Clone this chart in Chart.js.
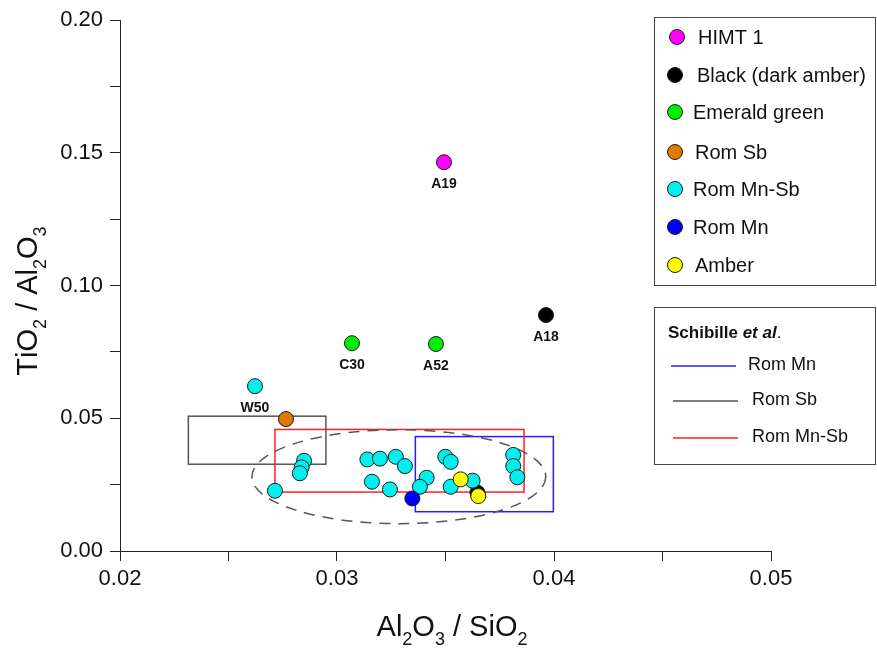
<!DOCTYPE html>
<html>
<head>
<meta charset="utf-8">
<script src="https://cdn.jsdelivr.net/npm/chart.js@4.4.1/dist/chart.umd.min.js"></script>
<style>
  html, body { margin: 0; padding: 0; background: #fff; }
  canvas { display: block; }
</style>
</head>
<body>
<canvas id="chart" width="877" height="650"></canvas>
<script>
// values (x = Al2O3/SiO2, y = TiO2/Al2O3)
var himtX = [0.03493];
var himtY = [0.1465];
var himtLabels = ['A19'];

var blackX = [0.03963, 0.03647];
var blackY = [0.0889, 0.0220];
var blackLabels = ['A18', ''];

var emeraldX = [0.03069, 0.03456];
var emeraldY = [0.0783, 0.0780];
var emeraldLabels = ['C30', 'A52'];

var romSbX = [0.02765];
var romSbY = [0.0497];

var romMnSbX = [0.02622, 0.02714, 0.02848, 0.02837, 0.02829, 0.03140, 0.03198, 0.03271, 0.03313, 0.03161,
                0.03244, 0.03413, 0.03382, 0.03499, 0.03524, 0.03524, 0.03625, 0.03812, 0.03812, 0.03831];
var romMnSbY = [0.0621, 0.0227, 0.0340, 0.0315, 0.0293, 0.0345, 0.0348, 0.0355, 0.0320, 0.0261,
                0.0232, 0.0276, 0.0242, 0.0355, 0.0336, 0.0242, 0.0265, 0.0362, 0.0320, 0.0278];
var romMnSbLabels = ['W50'];

var romMnX = [0.03347];
var romMnY = [0.0198];

var amberX = [0.03570, 0.03651];
var amberY = [0.0270, 0.0207];

// Schibille et al. fields: [xmin, xmax, ymin, ymax]
var fieldRomMn = [0.03361, 0.03997, 0.0148, 0.0431];
var fieldRomSb = [0.02315, 0.02949, 0.0327, 0.0508];
var fieldRomMnSb = [0.02714, 0.03862, 0.0222, 0.0458];
// dashed ellipse: [cx, cy, rx, ry]
var groupEllipse = [0.03285, 0.0280, 0.00677, 0.0177];

var xTickValues = [0.02, 0.025, 0.03, 0.035, 0.04, 0.045, 0.05];
var xTickLabels = ['0.02', '', '0.03', '', '0.04', '', '0.05'];
var yTickValues = [0, 0.025, 0.05, 0.075, 0.1, 0.125, 0.15, 0.175, 0.2];
var yTickLabels = ['0.00', '', '0.05', '', '0.10', '', '0.15', '', '0.20'];

var legendItems = ['HIMT 1', 'Black (dark amber)', 'Emerald green', 'Rom Sb', 'Rom Mn-Sb', 'Rom Mn', 'Amber'];
var legendColors = ['#ff00ff', '#000000', '#00ee00', '#e07800', '#00f0f0', '#0000ff', '#ffff00'];
var fieldNames = ['Rom Mn', 'Rom Sb', 'Rom Mn-Sb'];
var fieldColors = ['#2020ff', '#555555', '#ff2020'];

var FONT = '"Liberation Sans", Arial, sans-serif';

function pts(xs, ys) {
  return xs.map(function(x, i) { return { x: x, y: ys[i] }; });
}

// later series sit on top, as in the original plot
function series(name, xs, ys, color, drawOrder, labels) {
  return {
    label: name,
    data: pts(xs, ys),
    backgroundColor: color,
    borderColor: '#1a1a1a',
    borderWidth: 1,
    pointRadius: 7.5,
    pointHoverRadius: 7.5,
    order: drawOrder,
    pointLabels: labels || []
  };
}

// writes a formula like TiO2 with the digits lowered and smaller
function formulaParts(str) {
  var parts = [];
  for (var i = 0; i < str.length; i++) {
    var c = str[i];
    var sub = /[0-9]/.test(c) && i > 0 && /[A-Za-z]/.test(str[i - 1]);
    parts.push([c, sub]);
  }
  return parts;
}

function drawFormula(ctx, str, cx, baseY, size) {
  var parts = formulaParts(str);
  var big = size + 'px ' + FONT;
  var small = Math.round(size * 0.62) + 'px ' + FONT;
  var total = 0;
  parts.forEach(function(p) {
    ctx.font = p[1] ? small : big;
    total += ctx.measureText(p[0]).width;
  });
  var x = cx - total / 2;
  ctx.textAlign = 'left';
  ctx.textBaseline = 'alphabetic';
  parts.forEach(function(p) {
    ctx.font = p[1] ? small : big;
    ctx.fillText(p[0], x, baseY + (p[1] ? size * 0.3 : 0));
    x += ctx.measureText(p[0]).width;
  });
}

var fieldsPlugin = {
  id: 'fields',
  beforeDatasetsDraw: function(chart) {
    var ctx = chart.ctx;
    var xs = chart.scales.x, ys = chart.scales.y;
    var fields = [fieldRomMn, fieldRomSb, fieldRomMnSb];
    ctx.save();
    fields.forEach(function(f, i) {
      var l = xs.getPixelForValue(f[0]), r = xs.getPixelForValue(f[1]);
      var b = ys.getPixelForValue(f[2]), t = ys.getPixelForValue(f[3]);
      ctx.strokeStyle = fieldColors[i];
      ctx.lineWidth = 1.5;
      ctx.strokeRect(l, t, r - l, b - t);
    });
    var cx = xs.getPixelForValue(groupEllipse[0]);
    var cy = ys.getPixelForValue(groupEllipse[1]);
    var rx = Math.abs(xs.getPixelForValue(groupEllipse[0] + groupEllipse[2]) - cx);
    var ry = Math.abs(ys.getPixelForValue(groupEllipse[1] + groupEllipse[3]) - cy);
    ctx.beginPath();
    ctx.ellipse(cx, cy, rx, ry, 0, 0, Math.PI * 2);
    ctx.setLineDash([11, 8]);
    ctx.strokeStyle = '#555555';
    ctx.lineWidth = 1.5;
    ctx.stroke();
    ctx.restore();
  }
};

var decorPlugin = {
  id: 'decor',
  afterDraw: function(chart) {
    var ctx = chart.ctx;
    ctx.save();
    ctx.fillStyle = '#111';

    // sample labels under the points
    chart.data.datasets.forEach(function(ds, di) {
      var meta = chart.getDatasetMeta(di);
      ds.pointLabels.forEach(function(txt, i) {
        if (!txt) return;
        var el = meta.data[i];
        ctx.font = 'bold 14px ' + FONT;
        ctx.textAlign = 'center';
        ctx.textBaseline = 'middle';
        ctx.fillText(txt, el.x, el.y + 22);
      });
    });

    // axis titles
    ctx.fillStyle = '#111';
    drawFormula(ctx, 'Al2O3 / SiO2', 452, 636, 29);
    ctx.save();
    ctx.translate(37, 301);
    ctx.rotate(-Math.PI / 2);
    drawFormula(ctx, 'TiO2 / Al2O3', 0, 0, 29);
    ctx.restore();

    // sample legend
    ctx.strokeStyle = '#444';
    ctx.lineWidth = 1;
    ctx.strokeRect(654.5, 17.5, 221, 268);
    var rowY = [37, 75, 112, 152, 189, 227, 265];
    var textX = [698, 697, 693, 695, 693, 693, 695];
    legendItems.forEach(function(name, i) {
      ctx.beginPath();
      ctx.arc(i === 0 ? 677 : 675, rowY[i], 7.5, 0, Math.PI * 2);
      ctx.fillStyle = legendColors[i];
      ctx.fill();
      ctx.strokeStyle = '#1a1a1a';
      ctx.stroke();
      ctx.fillStyle = '#111';
      ctx.font = '20px ' + FONT;
      ctx.textAlign = 'left';
      ctx.textBaseline = 'middle';
      ctx.fillText(name, textX[i], rowY[i] + 1);
    });

    // field legend
    ctx.strokeStyle = '#444';
    ctx.strokeRect(654.5, 307.5, 221, 157);
    ctx.fillStyle = '#111';
    ctx.textBaseline = 'middle';
    ctx.font = 'bold 17px ' + FONT;
    ctx.fillText('Schibille ', 668, 333);
    var w = ctx.measureText('Schibille ').width;
    ctx.font = 'italic bold 17px ' + FONT;
    ctx.fillText('et al', 668 + w, 333);
    var w2 = ctx.measureText('et al').width;
    ctx.font = '17px ' + FONT;
    ctx.fillText('.', 668 + w + w2, 333);
    var lineY = [366, 401, 438];
    var lineX = [671, 673, 673];
    var labX = [748, 752, 752];
    fieldNames.forEach(function(name, i) {
      ctx.beginPath();
      ctx.moveTo(lineX[i], lineY[i]);
      ctx.lineTo(lineX[i] + 65, lineY[i]);
      ctx.strokeStyle = fieldColors[i];
      ctx.lineWidth = 1.5;
      ctx.stroke();
      ctx.fillStyle = '#111';
      ctx.font = '18px ' + FONT;
      ctx.fillText(name, labX[i], lineY[i] - 1);
    });
    ctx.restore();
  }
};

var chart = new Chart(document.getElementById('chart'), {
  type: 'scatter',
  data: {
    datasets: [
      series('HIMT 1', himtX, himtY, '#ff00ff', 7, himtLabels),
      series('Black (dark amber)', blackX, blackY, '#000000', 6, blackLabels),
      series('Emerald green', emeraldX, emeraldY, '#00ee00', 5, emeraldLabels),
      series('Rom Sb', romSbX, romSbY, '#e07800', 4),
      series('Rom Mn-Sb', romMnSbX, romMnSbY, '#00f0f0', 3, romMnSbLabels),
      series('Rom Mn', romMnX, romMnY, '#0000ff', 2),
      series('Amber', amberX, amberY, '#ffff00', 1)
    ]
  },
  options: {
    responsive: false,
    animation: false,
    layout: { padding: { top: 20, right: 106, left: 0, bottom: 0 } },
    plugins: {
      legend: { display: false },
      tooltip: { enabled: false }
    },
    scales: {
      x: {
        type: 'linear',
        min: 0.02,
        max: 0.05,
        afterBuildTicks: function(scale) {
          scale.ticks = xTickValues.map(function(v) { return { value: v }; });
        },
        afterFit: function(scale) { scale.height = 99; },
        ticks: {
          autoSkip: false,
          maxRotation: 0,
          padding: 5,
          color: '#111',
          font: { family: FONT, size: 22 },
          callback: function(v, i) { return xTickLabels[i]; }
        },
        grid: { drawOnChartArea: false, drawTicks: true, tickLength: 10, color: '#222' },
        border: { display: true, color: '#222', width: 1 }
      },
      y: {
        type: 'linear',
        min: 0,
        max: 0.2,
        afterBuildTicks: function(scale) {
          scale.ticks = yTickValues.map(function(v) { return { value: v }; });
        },
        afterFit: function(scale) { scale.width = 120; },
        ticks: {
          autoSkip: false,
          padding: 7,
          color: '#111',
          font: { family: FONT, size: 22 },
          callback: function(v, i) { return yTickLabels[i]; }
        },
        grid: { drawOnChartArea: false, drawTicks: true, tickLength: 10, color: '#222' },
        border: { display: true, color: '#222', width: 1 }
      }
    }
  },
  plugins: [fieldsPlugin, decorPlugin]
});
</script>
</body>
</html>
